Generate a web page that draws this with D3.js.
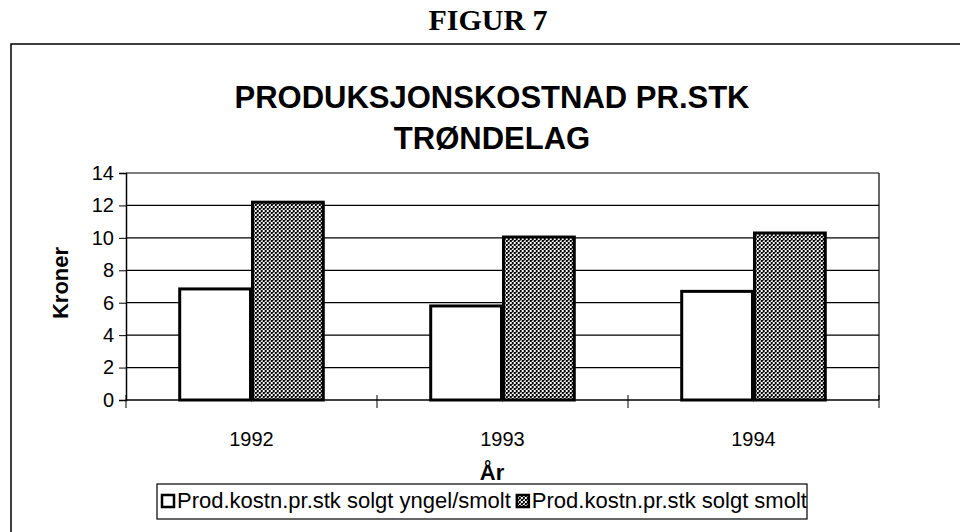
<!DOCTYPE html>
<html>
<head>
<meta charset="utf-8">
<title>Figur 7</title>
<script src="https://cdn.jsdelivr.net/npm/d3@7"></script>
<style>
  body { margin: 0; background: #fff; }
  text { font-family: "Liberation Sans", Arial, sans-serif; fill: #000; }
</style>
</head>
<body>
<svg width="960" height="532"></svg>
<script>
// data
const years = ['1992', '1993', '1994']
const seriesNames = ['Prod.kostn.pr.stk solgt yngel/smolt', 'Prod.kostn.pr.stk solgt smolt']
const yngelSmolt = [6.85, 5.8, 6.7]
const smolt = [12.2, 10.05, 10.3]
const yTicks = [0, 2, 4, 6, 8, 10, 12, 14]

const svg = d3.select('svg')
const plot = { left: 126, right: 879, top: 173, bottom: 400 }

// dotted fill for the second series
const defs = svg.append('defs')
const pat = defs.append('pattern').attr('id', 'dots')
  .attr('width', 4).attr('height', 4).attr('patternUnits', 'userSpaceOnUse')
pat.append('rect').attr('width', 4).attr('height', 4).attr('fill', '#fff')
pat.append('rect').attr('x', 0).attr('y', 0).attr('width', 2).attr('height', 2).attr('fill', '#000')
pat.append('rect').attr('x', 2).attr('y', 2).attr('width', 2).attr('height', 2).attr('fill', '#000')
pat.append('rect').attr('x', 2).attr('y', 0).attr('width', 1).attr('height', 1).attr('fill', '#444')

// heading above the frame
svg.append('text').attr('x', 488).attr('y', 30)
  .attr('text-anchor', 'middle')
  .style('font-family', '"Liberation Serif", "Times New Roman", serif')
  .style('font-weight', 'bold').style('font-size', '30px')
  .text('FIGUR 7')

// frame
svg.append('path').attr('d', 'M11,532 L11,44 L960,44')
  .attr('fill', 'none').attr('stroke', '#000').attr('stroke-width', 1.5)

// chart title
const title = svg.append('text').attr('text-anchor', 'middle')
  .style('font-weight', 'bold').style('font-size', '31px')
title.append('tspan').attr('x', 492).attr('y', 108).text('PRODUKSJONSKOSTNAD PR.STK')
title.append('tspan').attr('x', 492).attr('y', 149).text('TRØNDELAG')

const x0 = d3.scaleBand().domain(years).range([plot.left, plot.right])
  .paddingInner(0.42).paddingOuter(0.21)
const x1 = d3.scaleBand().domain([0, 1]).range([0, x0.bandwidth()])
const y = d3.scaleLinear().domain([0, 14]).range([plot.bottom, plot.top])

// gridlines
svg.append('g').selectAll('line').data(yTicks.slice(1)).join('line')
  .attr('x1', plot.left).attr('x2', plot.right)
  .attr('y1', d => y(d)).attr('y2', d => y(d))
  .attr('stroke', '#000').attr('stroke-width', 1.2)

// right border
svg.append('line').attr('x1', plot.right).attr('x2', plot.right)
  .attr('y1', plot.top).attr('y2', plot.bottom)
  .attr('stroke', '#000').attr('stroke-width', 1.2)

// bars
const rows = years.map((yr, i) => ({ yr, vals: [yngelSmolt[i], smolt[i]] }))
svg.append('g').selectAll('g').data(rows).join('g')
  .attr('transform', d => `translate(${x0(d.yr)},0)`)
  .selectAll('rect').data(d => d.vals).join('rect')
  .attr('x', (d, i) => x1(i) + 1)
  .attr('width', x1.bandwidth() - 2)
  .attr('y', d => y(d))
  .attr('height', d => y(0) - y(d))
  .attr('fill', (d, i) => i === 0 ? '#fff' : 'url(#dots)')
  .attr('stroke', '#000').attr('stroke-width', 3)

// y axis
const yAxis = d3.axisLeft(y).tickValues(yTicks).tickSize(7).tickPadding(5)
const gy = svg.append('g').attr('transform', `translate(${plot.left},0)`).call(yAxis)
gy.select('.domain').attr('stroke-width', 1.5)
gy.selectAll('.tick text').style('font-size', '20px')
  .style('font-family', '"Liberation Sans", Arial, sans-serif')

// x axis: ticks sit on the band boundaries
const gx = svg.append('g').attr('transform', `translate(0,${plot.bottom})`)
gx.append('line').attr('x1', plot.left).attr('x2', plot.right)
  .attr('stroke', '#000').attr('stroke-width', 1.5)
const bounds = [plot.left].concat(years.map(yr => x0(yr) + x0.bandwidth() + x0.step() * 0.21))
gx.selectAll('.tk').data(bounds).join('line').attr('class', 'tk')
  .attr('x1', d => d).attr('x2', d => d).attr('y1', -5).attr('y2', 8)
  .attr('stroke', '#000')
gx.selectAll('.lbl').data(years).join('text').attr('class', 'lbl')
  .attr('x', d => x0(d) + x0.bandwidth() / 2).attr('y', 46)
  .attr('text-anchor', 'middle').style('font-size', '20px')
  .text(d => d)

// axis titles
svg.append('text').attr('x', 492).attr('y', 480)
  .attr('text-anchor', 'middle').style('font-weight', 'bold').style('font-size', '22px')
  .text('År')
svg.append('text').attr('transform', 'translate(68,283) rotate(-90)')
  .attr('text-anchor', 'middle').style('font-weight', 'bold').style('font-size', '22px')
  .text('Kroner')

// legend
const lg = svg.append('g')
lg.append('rect').attr('x', 157).attr('y', 484).attr('width', 650).attr('height', 35)
  .attr('fill', '#fff').attr('stroke', '#000').attr('stroke-width', 1.2)
const item1 = lg.append('g').attr('transform', 'translate(162,495)')
item1.append('rect').attr('width', 12).attr('height', 12)
  .attr('fill', '#fff').attr('stroke', '#000').attr('stroke-width', 2.5)
const t1 = item1.append('text').attr('x', 15).attr('y', 13).style('font-size', '22px').text(seriesNames[0])
const w1 = t1.node().getComputedTextLength()
const item2 = lg.append('g').attr('transform', `translate(${162 + 15 + w1 + 6},495)`)
item2.append('rect').attr('width', 12).attr('height', 12)
  .attr('fill', 'url(#dots)').attr('stroke', '#000').attr('stroke-width', 2.5)
item2.append('text').attr('x', 15).attr('y', 13).style('font-size', '22px').text(seriesNames[1])
</script>
</body>
</html>
